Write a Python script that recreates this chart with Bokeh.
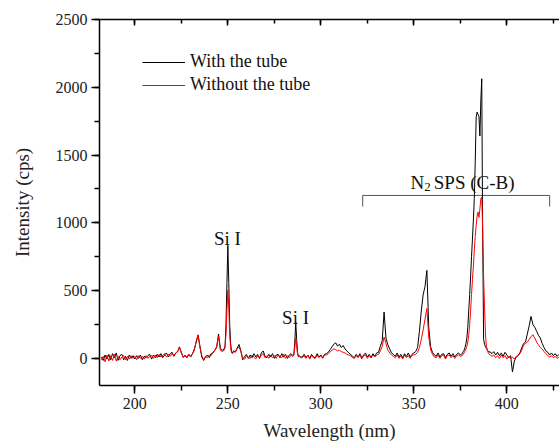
from bokeh.plotting import figure
from bokeh.models import Range1d, LinearAxis, SingleIntervalTicker, Label, CustomJSTickFormatter
from bokeh.embed import file_html
from bokeh.resources import INLINE

# ---------------- data ----------------
# wavelength grid (nm): 1 nm steps, 0.5 nm steps around the narrow lines
wl_a = list(range(182, 248))
wl_si1 = [248, 248.5, 249, 249.5, 250, 250.5, 251, 251.5, 252, 252.5, 253]
wl_b = list(range(254, 285))
wl_si2 = [285, 285.5, 286, 286.5, 287, 287.5, 288, 288.5, 289]
wl_c = list(range(290, 376))
wl_n2 = [376, 376.5, 377, 377.5, 378, 378.5, 379, 379.5, 380, 380.5, 381, 381.5,
         382, 382.5, 383, 383.5, 384, 384.5, 385, 385.5, 386, 386.5, 387, 387.5,
         388, 388.5, 389, 389.5, 390, 390.5, 391, 391.5, 392]
wl_d = list(range(393, 429))

# "With the tube" (black), intensity in cps
with_a = [10, -15, 25, -5, 30, -10, 35, 5, 40, -15, 20, 30, -10, 15, -15, 25, 0, 20,
          -5, 20, 0, 25, -10, 15, 5, 20, 30, -5, 25, 5, 30, 10, 35, 5, 25, 40,
          10, 35, 45, 15, 40, 50, 85, 40, 10, 20, 5, 30, 10, 35, 70, 120, 170, 90,
          10, -15, 10, 25, 5, 35, 40, 60, 80, 180, 70, 60]
with_si1 = [70, 90, 250, 550, 834, 560, 250, 110, 50, 40, 55]
with_b = [50, 75, 103, 55, -10, 15, 30, 0, 25, 5, 35, 10, 30, 0, 40, 55,
          15, 5, 30, 10, 35, 0, 25, 30, 5, 35, 10, 30, 0, 25, 35]
with_si2 = [20, 30, 120, 268, 140, 40, 15, 20, 10]
with_c = [10, 30, 5, 25, 0, 30, 10, 5, 35, 10, 25, 5, 30, 35,
          45, 65, 85, 105, 115, 90, 105, 80, 95, 70, 55, 40, 30,
          15, 5, 30, 10, 35, 5, 25, 40, 10, 30, 5, 35, 15, 40,
          45, 90, 130, 342, 150, 100, 70, 40, 30,
          15, 40, 10, 30, 5, 35, 15, 40, 10, 30, 40, 50,
          80, 200, 350, 470, 530, 649, 231, 85, 45,
          25, 15, 40, 10, 30, 35, 5, 30, 40, 15, 35, 10, 30, 40, 25]
with_n2 = [35, 50, 60, 80, 110, 150, 230, 350, 470, 600, 750, 880, 1020, 1180,
           1450, 1780, 1817, 1800, 1785, 1640, 1900, 2063, 900, 140, 105, 85,
           75, 60, 55, 45, 50, 40, 35]
with_d = [50, 25, 45, 20, 40, 15, 45, 25, 5, 20,
          -100, -20, 10, 20, 40, 80, 110, 120, 180, 240,
          310, 250, 230, 200, 170, 150, 110, 80, 55, 45,
          25, 40, 20, 35, 15, 30]

# "Without the tube" (red), intensity in cps
without_a = [-10, 15, -25, 25, -20, 20, -15, 30, -20, 15, -10, 10, 20, -10, 15, -5, 20, 0,
             15, -10, 20, 0, 15, -5, 20, 0, 15, 20, 0, 25, 5, 30, 10, 25, 35, 10,
             30, 15, 35, 20, 40, 50, 80, 45, 5, 25, 10, 30, 15, 35, 60, 130, 175, 80,
             20, -10, 15, 5, 25, 20, 45, 60, 90, 165, 60, 50]
without_si1 = [60, 80, 180, 350, 502, 380, 170, 80, 40, 35, 50]
without_b = [45, 70, 85, 50, 0, -5, 20, 5, 0, 25, 10, -5, 20, 0, 25, 35,
             5, 20, 0, 25, 5, 20, 0, 25, 15, 5, 30, 0, 20, 5, 25]
without_si2 = [15, 25, 80, 150, 90, 30, 10, 15, 5]
without_c = [5, 20, 0, 25, -5, 20, 5, 0, 25, 5, 20, 0, 25, 25,
             35, 50, 60, 70, 65, 55, 60, 50, 45, 40, 30, 25, 20,
             5, 0, 20, 5, 25, -5, 20, 25, 0, 20, 5, 25, 10, 25,
             30, 55, 90, 157, 110, 60, 40, 25, 15,
             5, 25, 0, 20, -5, 25, 5, 20, 0, 25, 25, 30,
             45, 80, 140, 210, 290, 368, 157, 65, 30,
             10, 5, 25, 0, 20, 25, -5, 20, 25, 5, 20, 0, 20, 25, 15]
without_n2 = [20, 30, 40, 55, 70, 90, 120, 170, 250, 350, 470, 580, 680, 800,
              900, 980, 1050, 1080, 1040, 1100, 1178, 1190, 950, 600, 380, 180,
              90, 60, 40, 30, 25, 20, 15]
without_d = [25, 5, 20, 0, 25, 5, 20, -5, 15, 0,
             10, -5, 15, 20, 35, 60, 100, 110, 120, 140,
             160, 175, 150, 120, 100, 80, 70, 50, 35, 20,
             10, 20, 5, 15, 0, 10]

wavelength = wl_a + wl_si1 + wl_b + wl_si2 + wl_c + wl_n2 + wl_d
with_tube = with_a + with_si1 + with_b + with_si2 + with_c + with_n2 + with_d
without_tube = without_a + without_si1 + without_b + without_si2 + without_c + without_n2 + without_d
assert len(wavelength) == len(with_tube) == len(without_tube)

series_labels = ["With the tube", "Without the tube"]
si_lines = [(249.8, 885), (286.4, 305)]      # (nm, cps) of the "Si I" labels
band_label = ("N", "2", "SPS (C-B)")
bracket_start, bracket_end = 322.5, 423.0     # nm
bracket_level, bracket_foot = 1202, 1120      # cps

FONT = "Liberation Serif"

# ---------------- figure ----------------
p = figure(width=559, height=452, x_range=Range1d(181, 428.3), y_range=Range1d(-200, 2500),
           output_backend="svg", toolbar_location=None,
           min_border_left=99, min_border_right=0, min_border_top=19, min_border_bottom=67)
p.outline_line_color = None
p.xgrid.visible = False
p.ygrid.visible = False
p.background_fill_color = "white"
p.border_fill_color = "white"

# bracket of the N2 band
p.line([bracket_start, bracket_start, bracket_end, bracket_end],
       [bracket_foot, bracket_level, bracket_level, bracket_foot],
       line_color="#555555", line_width=1)

p.line(wavelength, with_tube, line_color="black", line_width=1, legend_label=series_labels[0])
p.line(wavelength, without_tube, line_color="#ff0000", line_width=1, legend_label=series_labels[1])

# axes
xa = p.xaxis[0]
xa.ticker = SingleIntervalTicker(interval=50, num_minor_ticks=2)
ya = p.yaxis[0]
ya.ticker = SingleIntervalTicker(interval=500, num_minor_ticks=2)
for ax in (xa, ya):
    ax.axis_line_width = 1.5
    ax.axis_line_color = "black"
    ax.major_tick_line_color = "black"
    ax.minor_tick_line_color = "black"
    ax.major_tick_line_width = 1.5
    ax.minor_tick_line_width = 1.5
    ax.major_tick_out = 8
    ax.major_tick_in = 0
    ax.minor_tick_out = 5
    ax.minor_tick_in = 0
    ax.major_label_text_font = FONT
    ax.major_label_text_font_size = "16px"
    ax.major_label_text_color = "#222222"
    ax.axis_label_text_font = FONT
    ax.axis_label_text_font_size = "19px"
    ax.axis_label_text_font_style = "normal"
    ax.axis_label_text_color = "#222222"
    ax.major_label_standoff = 4
xa.axis_label = "Wavelength (nm)"
xa.axis_label_standoff = 8
ya.axis_label = "Intensity (cps)"
ya.axis_label_standoff = 20

top = LinearAxis(ticker=SingleIntervalTicker(interval=50, num_minor_ticks=2),
                 formatter=CustomJSTickFormatter(code="return ''"))
top.axis_line_width = 1.5
top.major_tick_line_width = 1.5
top.minor_tick_line_width = 1.5
top.major_tick_in = 6
top.major_tick_out = 0
top.minor_tick_in = 4
top.minor_tick_out = 0
top.major_label_text_font_size = "0px"
top.major_label_standoff = 0
p.add_layout(top, "above")

# annotations
for (xv, yv) in si_lines:
    p.add_layout(Label(x=xv, y=yv, text="Si I", text_align="center", text_baseline="alphabetic",
                       text_font=FONT, text_font_size="19px", text_color="#111111"))
p.add_layout(Label(x=348.2, y=1298, text=band_label[0], text_align="left", text_baseline="alphabetic",
                   text_font=FONT, text_font_size="19px", text_color="#111111"))
p.add_layout(Label(x=355.6, y=1262, text=band_label[1], text_align="left", text_baseline="alphabetic",
                   text_font=FONT, text_font_size="13px", text_color="#111111"))
p.add_layout(Label(x=360.7, y=1298, text=band_label[2], text_align="left", text_baseline="alphabetic",
                   text_font=FONT, text_font_size="19px", text_color="#111111"))

# legend
lg = p.legend[0]
lg.location = (43, 290)
lg.border_line_color = None
lg.background_fill_alpha = 0
lg.padding = 0
lg.margin = 0
lg.spacing = 2
lg.glyph_width = 43
lg.glyph_height = 20
lg.label_height = 20
lg.label_standoff = 5
lg.label_text_font = FONT
lg.label_text_font_size = "18px"
lg.label_text_color = "#111111"

open("out.html", "w").write(file_html(p, INLINE))
